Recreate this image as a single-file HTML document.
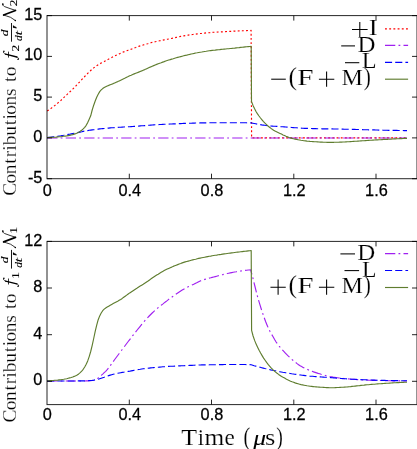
<!DOCTYPE html>
<html><head><meta charset="utf-8">
<style>
html,body{margin:0;padding:0;background:#fff;}
body{width:417px;height:449px;overflow:hidden;}
svg{display:block;will-change:transform;}
.tk{font-family:"Liberation Sans",sans-serif;font-size:16.3px;fill:#000;stroke:#000;stroke-width:0.25px;}
.sf{font-family:"Liberation Serif",serif;fill:#000;}
.sf text{stroke:#fff;stroke-width:0.7px;}
.yl text{stroke-width:1.2px;}
.yl text.m{stroke:#000;stroke-width:0.8px;}
.c{fill:none;stroke-width:1.15;stroke-linejoin:round;}
</style></head><body>
<svg width="417" height="449" viewBox="0 0 417 449">
<rect width="417" height="449" fill="#fff"/>
<!-- curves top -->
<path class="c" stroke="#ff0000" stroke-dasharray="1.9 2.3" d="M47.2 111.1 L48.7 110.1 L50.2 109.0 L51.7 107.9 L53.2 106.8 L54.7 105.6 L56.2 104.4 L57.7 103.1 L59.2 101.9 L60.7 100.6 L62.2 99.2 L63.7 97.7 L65.2 96.3 L66.7 94.8 L68.2 93.4 L69.7 92.0 L71.2 90.6 L72.7 89.2 L74.2 87.7 L75.7 86.1 L77.2 84.5 L78.7 82.9 L80.2 81.3 L81.7 79.7 L83.2 78.1 L84.7 76.5 L86.2 74.9 L87.7 73.4 L89.2 71.9 L90.7 70.5 L92.2 69.1 L93.7 67.9 L95.2 66.7 L96.7 65.7 L98.2 64.8 L99.7 63.9 L101.2 63.1 L102.7 62.3 L104.2 61.6 L105.7 60.8 L107.2 59.9 L108.7 59.1 L110.2 58.2 L111.7 57.5 L113.2 56.7 L114.7 56.0 L116.2 55.2 L117.7 54.5 L119.2 53.9 L120.7 53.2 L122.2 52.5 L123.7 51.9 L125.2 51.3 L126.7 50.8 L128.2 50.2 L129.7 49.7 L131.2 49.2 L132.7 48.6 L134.2 48.0 L135.7 47.5 L137.2 46.9 L138.7 46.4 L140.2 45.9 L141.7 45.5 L143.2 45.0 L144.7 44.5 L146.2 44.1 L147.7 43.7 L149.2 43.2 L150.7 42.8 L152.2 42.4 L153.7 42.1 L155.2 41.7 L156.7 41.4 L158.2 41.1 L159.7 40.8 L161.2 40.5 L162.7 40.2 L164.2 39.9 L165.7 39.6 L167.2 39.3 L168.7 39.0 L170.2 38.7 L171.7 38.4 L173.2 38.0 L174.7 37.7 L176.2 37.4 L177.7 37.1 L179.2 36.7 L180.7 36.4 L182.2 36.1 L183.7 35.9 L185.2 35.6 L186.7 35.4 L188.2 35.1 L189.7 34.9 L191.2 34.7 L192.7 34.5 L194.2 34.2 L195.7 34.1 L197.2 33.9 L198.7 33.7 L200.2 33.5 L201.7 33.4 L203.2 33.2 L204.7 33.1 L206.2 32.9 L207.7 32.8 L209.2 32.7 L210.7 32.6 L212.2 32.4 L213.7 32.3 L215.2 32.2 L216.7 32.1 L218.2 32.0 L219.7 31.9 L221.2 31.8 L222.7 31.8 L224.2 31.7 L225.7 31.6 L227.2 31.5 L228.7 31.4 L230.2 31.4 L231.7 31.3 L233.2 31.2 L234.7 31.1 L236.2 31.1 L237.7 31.0 L239.2 30.9 L240.7 30.8 L242.2 30.8 L243.7 30.7 L245.2 30.6 L246.7 30.6 L248.2 30.5 L249.7 30.5 L251.1 30.4 L251.6 137.8 L407.0 137.8"/>
<path class="c" stroke="#a020f0" stroke-dasharray="10.3 3.2 1.8 3.2" d="M47.2 138.0 L407.0 138.0"/>
<path class="c" stroke="#0000ff" stroke-dasharray="7.1 3.1" d="M47.2 137.6 L48.7 137.4 L50.2 137.3 L51.7 137.1 L53.2 136.9 L54.7 136.7 L56.2 136.5 L57.7 136.3 L59.2 136.0 L60.7 135.8 L62.2 135.5 L63.7 135.3 L65.2 135.0 L66.7 134.7 L68.2 134.4 L69.7 134.2 L71.2 133.9 L72.7 133.6 L74.2 133.3 L75.7 133.0 L77.2 132.7 L78.7 132.4 L80.2 132.1 L81.7 131.8 L83.2 131.4 L84.7 131.1 L86.2 130.8 L87.7 130.6 L89.2 130.3 L90.7 130.1 L92.2 129.9 L93.7 129.7 L95.2 129.5 L96.7 129.3 L98.2 129.1 L99.7 128.9 L101.2 128.8 L102.7 128.6 L104.2 128.5 L105.7 128.3 L107.2 128.2 L108.7 128.1 L110.2 127.9 L111.7 127.8 L113.2 127.7 L114.7 127.6 L116.2 127.5 L117.7 127.4 L119.2 127.3 L120.7 127.2 L122.2 127.1 L123.7 127.0 L125.2 126.9 L126.7 126.9 L128.2 126.8 L129.7 126.7 L131.2 126.6 L132.7 126.5 L134.2 126.4 L135.7 126.3 L137.2 126.2 L138.7 126.1 L140.2 125.9 L141.7 125.8 L143.2 125.7 L144.7 125.6 L146.2 125.5 L147.7 125.4 L149.2 125.2 L150.7 125.1 L152.2 125.0 L153.7 124.9 L155.2 124.8 L156.7 124.7 L158.2 124.6 L159.7 124.5 L161.2 124.5 L162.7 124.4 L164.2 124.3 L165.7 124.2 L167.2 124.1 L168.7 124.1 L170.2 124.0 L171.7 124.0 L173.2 123.9 L174.7 123.8 L176.2 123.8 L177.7 123.7 L179.2 123.6 L180.7 123.6 L182.2 123.5 L183.7 123.4 L185.2 123.4 L186.7 123.3 L188.2 123.3 L189.7 123.2 L191.2 123.2 L192.7 123.1 L194.2 123.1 L195.7 123.0 L197.2 123.0 L198.7 123.0 L200.2 122.9 L201.7 122.9 L203.2 122.9 L204.7 122.8 L206.2 122.8 L207.7 122.8 L209.2 122.7 L210.7 122.7 L212.2 122.7 L213.7 122.7 L215.2 122.7 L216.7 122.7 L218.2 122.7 L219.7 122.7 L221.2 122.7 L222.7 122.7 L224.2 122.7 L225.7 122.7 L227.2 122.7 L228.7 122.7 L230.2 122.7 L231.7 122.7 L233.2 122.7 L234.7 122.7 L236.2 122.7 L237.7 122.7 L239.2 122.7 L240.7 122.7 L242.2 122.7 L243.7 122.7 L245.2 122.7 L246.7 122.8 L248.2 122.8 L249.7 122.8 L251.2 122.9 L252.7 123.2 L254.2 123.5 L255.7 123.8 L257.2 124.1 L258.7 124.4 L260.2 124.6 L261.7 124.9 L263.2 125.1 L264.7 125.3 L266.2 125.5 L267.7 125.7 L269.2 125.8 L270.7 126.0 L272.2 126.1 L273.7 126.2 L275.2 126.3 L276.7 126.4 L278.2 126.5 L279.7 126.6 L281.2 126.7 L282.7 126.8 L284.2 126.9 L285.7 127.0 L287.2 127.1 L288.7 127.2 L290.2 127.3 L291.7 127.5 L293.2 127.6 L294.7 127.7 L296.2 127.8 L297.7 127.9 L299.2 128.0 L300.7 128.1 L302.2 128.2 L303.7 128.3 L305.2 128.3 L306.7 128.4 L308.2 128.4 L309.7 128.5 L311.2 128.5 L312.7 128.6 L314.2 128.6 L315.7 128.6 L317.2 128.7 L318.7 128.7 L320.2 128.7 L321.7 128.8 L323.2 128.8 L324.7 128.8 L326.2 128.8 L327.7 128.9 L329.2 128.9 L330.7 128.9 L332.2 128.9 L333.7 129.0 L335.2 129.0 L336.7 129.0 L338.2 129.0 L339.7 129.1 L341.2 129.1 L342.7 129.1 L344.2 129.2 L345.7 129.2 L347.2 129.2 L348.7 129.3 L350.2 129.3 L351.7 129.4 L353.2 129.4 L354.7 129.4 L356.2 129.5 L357.7 129.5 L359.2 129.5 L360.7 129.6 L362.2 129.6 L363.7 129.7 L365.2 129.7 L366.7 129.7 L368.2 129.8 L369.7 129.8 L371.2 129.9 L372.7 129.9 L374.2 129.9 L375.7 130.0 L377.2 130.0 L378.7 130.1 L380.2 130.1 L381.7 130.1 L383.2 130.2 L384.7 130.2 L386.2 130.2 L387.7 130.3 L389.2 130.3 L390.7 130.3 L392.2 130.4 L393.7 130.4 L395.2 130.4 L396.7 130.4 L398.2 130.5 L399.7 130.5 L401.2 130.5 L402.7 130.5 L404.2 130.6 L405.7 130.6 L407.0 130.6"/>
<path class="c" stroke="#5f7d2f" d="M47.2 137.5 L48.7 137.5 L50.2 137.4 L51.7 137.3 L53.2 137.3 L54.7 137.2 L56.2 137.1 L57.7 136.9 L59.2 136.8 L60.7 136.7 L62.2 136.5 L63.7 136.3 L65.2 136.1 L66.7 135.9 L68.2 135.6 L69.7 135.4 L71.2 135.0 L72.7 134.6 L74.2 134.1 L75.7 133.6 L77.2 133.0 L78.7 132.2 L80.2 131.3 L81.7 130.2 L83.2 128.9 L84.7 127.3 L86.2 125.3 L87.7 122.6 L89.2 119.3 L90.7 115.8 L92.2 110.0 L93.7 105.2 L95.2 101.0 L96.7 97.3 L98.2 94.2 L99.7 91.6 L101.2 89.9 L102.7 88.6 L104.2 87.6 L105.7 86.8 L107.2 86.1 L108.7 85.4 L110.2 84.8 L111.7 84.2 L113.2 83.6 L114.7 82.9 L116.2 82.2 L117.7 81.6 L119.2 80.9 L120.7 80.2 L122.2 79.5 L123.7 78.8 L125.2 78.1 L126.7 77.3 L128.2 76.6 L129.7 75.8 L131.2 75.2 L132.7 74.5 L134.2 73.9 L135.7 73.3 L137.2 72.7 L138.7 72.1 L140.2 71.5 L141.7 70.9 L143.2 70.2 L144.7 69.6 L146.2 68.9 L147.7 68.2 L149.2 67.5 L150.7 66.9 L152.2 66.2 L153.7 65.6 L155.2 65.0 L156.7 64.4 L158.2 63.8 L159.7 63.2 L161.2 62.7 L162.7 62.1 L164.2 61.6 L165.7 61.0 L167.2 60.5 L168.7 60.0 L170.2 59.6 L171.7 59.1 L173.2 58.7 L174.7 58.2 L176.2 57.8 L177.7 57.4 L179.2 57.0 L180.7 56.6 L182.2 56.2 L183.7 55.8 L185.2 55.4 L186.7 55.1 L188.2 54.7 L189.7 54.4 L191.2 54.0 L192.7 53.7 L194.2 53.4 L195.7 53.0 L197.2 52.8 L198.7 52.5 L200.2 52.2 L201.7 52.0 L203.2 51.7 L204.7 51.5 L206.2 51.3 L207.7 51.0 L209.2 50.8 L210.7 50.6 L212.2 50.4 L213.7 50.2 L215.2 50.1 L216.7 49.9 L218.2 49.7 L219.7 49.6 L221.2 49.4 L222.7 49.3 L224.2 49.1 L225.7 49.0 L227.2 48.8 L228.7 48.7 L230.2 48.5 L231.7 48.4 L233.2 48.2 L234.7 48.1 L236.2 47.9 L237.7 47.7 L239.2 47.6 L240.7 47.4 L242.2 47.3 L243.7 47.1 L245.2 46.9 L246.7 46.8 L248.2 46.6 L249.7 46.5 L251.2 46.3 L251.5 101.5 L253.0 105.4 L254.5 108.6 L256.0 111.5 L257.5 113.9 L259.0 116.0 L260.5 118.0 L262.0 119.8 L263.5 121.6 L265.0 123.2 L266.5 124.6 L268.0 126.0 L269.5 127.2 L271.0 128.4 L272.5 129.5 L274.0 130.4 L275.5 131.3 L277.0 132.0 L278.5 132.7 L280.0 133.4 L281.5 134.1 L283.0 134.9 L284.5 135.6 L286.0 136.3 L287.5 136.9 L289.0 137.5 L290.5 137.9 L292.0 138.4 L293.5 138.8 L295.0 139.1 L296.5 139.4 L298.0 139.7 L299.5 140.0 L301.0 140.3 L302.5 140.5 L304.0 140.7 L305.5 140.9 L307.0 141.1 L308.5 141.2 L310.0 141.4 L311.5 141.5 L313.0 141.6 L314.5 141.7 L316.0 141.8 L317.5 141.9 L319.0 142.0 L320.5 142.1 L322.0 142.1 L323.5 142.2 L325.0 142.2 L326.5 142.3 L328.0 142.3 L329.5 142.3 L331.0 142.3 L332.5 142.3 L334.0 142.3 L335.5 142.2 L337.0 142.2 L338.5 142.2 L340.0 142.1 L341.5 142.1 L343.0 142.0 L344.5 142.0 L346.0 141.9 L347.5 141.8 L349.0 141.7 L350.5 141.6 L352.0 141.5 L353.5 141.4 L355.0 141.3 L356.5 141.2 L358.0 141.1 L359.5 141.0 L361.0 140.9 L362.5 140.8 L364.0 140.7 L365.5 140.6 L367.0 140.5 L368.5 140.4 L370.0 140.3 L371.5 140.2 L373.0 140.1 L374.5 140.0 L376.0 139.9 L377.5 139.9 L379.0 139.8 L380.5 139.7 L382.0 139.6 L383.5 139.5 L385.0 139.4 L386.5 139.3 L388.0 139.3 L389.5 139.2 L391.0 139.1 L392.5 139.0 L394.0 138.9 L395.5 138.9 L397.0 138.8 L398.5 138.7 L400.0 138.6 L401.5 138.6 L403.0 138.5 L404.5 138.4 L406.0 138.3 L407.0 138.3"/>
<!-- curves bottom -->
<path class="c" stroke="#a020f0" stroke-dasharray="10.3 3.2 1.8 3.2" d="M47.2 381.0 L48.7 381.0 L50.2 381.0 L51.7 381.0 L53.2 381.0 L54.7 381.0 L56.2 381.0 L57.7 381.0 L59.2 381.0 L60.7 381.0 L62.2 381.0 L63.7 381.0 L65.2 381.0 L66.7 381.0 L68.2 381.0 L69.7 381.0 L71.2 381.0 L72.7 381.0 L74.2 381.0 L75.7 381.0 L77.2 381.0 L78.7 381.0 L80.2 381.0 L81.7 381.0 L83.2 381.0 L84.7 381.0 L86.2 380.9 L87.7 380.9 L89.2 380.8 L90.7 380.7 L92.2 380.5 L93.7 380.2 L95.2 379.8 L96.7 379.1 L98.2 377.9 L99.7 376.6 L101.2 375.4 L102.7 374.1 L104.2 372.7 L105.7 371.3 L107.2 369.7 L108.7 367.9 L110.2 365.8 L111.7 363.7 L113.2 361.6 L114.7 359.5 L116.2 357.5 L117.7 355.5 L119.2 353.5 L120.7 351.5 L122.2 349.5 L123.7 347.5 L125.2 345.5 L126.7 343.5 L128.2 341.5 L129.7 339.6 L131.2 337.7 L132.7 335.7 L134.2 333.8 L135.7 331.9 L137.2 330.0 L138.7 328.2 L140.2 326.3 L141.7 324.4 L143.2 322.6 L144.7 320.8 L146.2 319.2 L147.7 317.6 L149.2 316.0 L150.7 314.5 L152.2 313.0 L153.7 311.6 L155.2 310.2 L156.7 308.9 L158.2 307.6 L159.7 306.4 L161.2 305.2 L162.7 304.1 L164.2 302.9 L165.7 301.7 L167.2 300.6 L168.7 299.4 L170.2 298.3 L171.7 297.2 L173.2 296.1 L174.7 295.1 L176.2 294.0 L177.7 293.0 L179.2 292.0 L180.7 291.0 L182.2 290.1 L183.7 289.2 L185.2 288.3 L186.7 287.5 L188.2 286.8 L189.7 286.1 L191.2 285.4 L192.7 284.7 L194.2 284.0 L195.7 283.2 L197.2 282.5 L198.7 281.7 L200.2 281.0 L201.7 280.4 L203.2 279.9 L204.7 279.4 L206.2 279.0 L207.7 278.5 L209.2 278.1 L210.7 277.8 L212.2 277.4 L213.7 277.0 L215.2 276.6 L216.7 276.2 L218.2 275.8 L219.7 275.4 L221.2 274.9 L222.7 274.6 L224.2 274.2 L225.7 273.8 L227.2 273.5 L228.7 273.2 L230.2 272.9 L231.7 272.6 L233.2 272.3 L234.7 272.0 L236.2 271.8 L237.7 271.5 L239.2 271.3 L240.7 271.0 L242.2 270.8 L243.7 270.6 L245.2 270.4 L246.7 270.2 L248.2 270.0 L249.7 269.9 L250.6 269.8 L250.6 269.8 L252.1 274.9 L253.6 280.9 L255.1 287.0 L256.6 293.0 L258.1 298.7 L259.6 303.7 L261.1 308.5 L262.6 313.0 L264.1 317.4 L265.6 321.5 L267.1 325.2 L268.6 328.7 L270.1 331.6 L271.6 334.3 L273.1 336.8 L274.6 339.5 L276.1 342.0 L277.6 344.1 L279.1 346.0 L280.6 347.8 L282.1 349.5 L283.6 351.2 L285.1 352.8 L286.6 354.4 L288.1 355.9 L289.6 357.3 L291.1 358.7 L292.6 360.0 L294.1 361.2 L295.6 362.4 L297.1 363.6 L298.6 364.7 L300.1 365.7 L301.6 366.6 L303.1 367.4 L304.6 368.2 L306.1 368.9 L307.6 369.5 L309.1 370.2 L310.6 370.8 L312.1 371.3 L313.6 371.9 L315.1 372.4 L316.6 372.9 L318.1 373.4 L319.6 373.8 L321.1 374.3 L322.6 374.7 L324.1 375.1 L325.6 375.5 L327.1 375.9 L328.6 376.2 L330.1 376.6 L331.6 376.8 L333.1 377.1 L334.6 377.3 L336.1 377.6 L337.6 377.8 L339.1 378.0 L340.6 378.2 L342.1 378.3 L343.6 378.5 L345.1 378.6 L346.6 378.8 L348.1 378.9 L349.6 379.0 L351.1 379.2 L352.6 379.3 L354.1 379.4 L355.6 379.5 L357.1 379.6 L358.6 379.7 L360.1 379.8 L361.6 379.8 L363.1 379.9 L364.6 380.0 L366.1 380.0 L367.6 380.1 L369.1 380.2 L370.6 380.2 L372.1 380.3 L373.6 380.3 L375.1 380.4 L376.6 380.4 L378.1 380.4 L379.6 380.5 L381.1 380.5 L382.6 380.6 L384.1 380.6 L385.6 380.6 L387.1 380.7 L388.6 380.7 L390.1 380.7 L391.6 380.8 L393.1 380.8 L394.6 380.8 L396.1 380.8 L397.6 380.9 L399.1 380.9 L400.6 380.9 L402.1 380.9 L403.6 381.0 L405.1 381.0 L406.6 381.0 L407.0 381.0"/>
<path class="c" stroke="#0000ff" stroke-dasharray="7.1 3.1" d="M47.2 381.0 L48.7 381.0 L50.2 381.0 L51.7 381.0 L53.2 381.0 L54.7 381.0 L56.2 381.0 L57.7 381.0 L59.2 381.0 L60.7 381.0 L62.2 381.0 L63.7 381.0 L65.2 381.0 L66.7 381.0 L68.2 381.0 L69.7 381.0 L71.2 381.0 L72.7 381.0 L74.2 381.0 L75.7 380.9 L77.2 380.9 L78.7 380.9 L80.2 380.9 L81.7 380.9 L83.2 380.9 L84.7 380.9 L86.2 380.8 L87.7 380.8 L89.2 380.6 L90.7 380.5 L92.2 380.4 L93.7 380.2 L95.2 379.9 L96.7 379.6 L98.2 379.2 L99.7 378.7 L101.2 378.2 L102.7 377.7 L104.2 377.2 L105.7 376.6 L107.2 376.1 L108.7 375.6 L110.2 375.1 L111.7 374.7 L113.2 374.3 L114.7 373.9 L116.2 373.6 L117.7 373.3 L119.2 373.0 L120.7 372.7 L122.2 372.4 L123.7 372.2 L125.2 371.9 L126.7 371.6 L128.2 371.4 L129.7 371.2 L131.2 370.9 L132.7 370.6 L134.2 370.3 L135.7 370.1 L137.2 369.8 L138.7 369.5 L140.2 369.3 L141.7 369.0 L143.2 368.8 L144.7 368.6 L146.2 368.5 L147.7 368.3 L149.2 368.1 L150.7 367.9 L152.2 367.8 L153.7 367.6 L155.2 367.5 L156.7 367.3 L158.2 367.2 L159.7 367.1 L161.2 367.0 L162.7 366.8 L164.2 366.7 L165.7 366.6 L167.2 366.5 L168.7 366.4 L170.2 366.3 L171.7 366.2 L173.2 366.2 L174.7 366.1 L176.2 366.0 L177.7 365.9 L179.2 365.8 L180.7 365.8 L182.2 365.7 L183.7 365.7 L185.2 365.6 L186.7 365.5 L188.2 365.5 L189.7 365.4 L191.2 365.3 L192.7 365.3 L194.2 365.2 L195.7 365.1 L197.2 365.1 L198.7 365.0 L200.2 365.0 L201.7 364.9 L203.2 364.9 L204.7 364.8 L206.2 364.8 L207.7 364.8 L209.2 364.8 L210.7 364.7 L212.2 364.7 L213.7 364.7 L215.2 364.7 L216.7 364.7 L218.2 364.6 L219.7 364.6 L221.2 364.6 L222.7 364.6 L224.2 364.5 L225.7 364.5 L227.2 364.5 L228.7 364.5 L230.2 364.5 L231.7 364.5 L233.2 364.5 L234.7 364.5 L236.2 364.5 L237.7 364.5 L239.2 364.5 L240.7 364.5 L242.2 364.5 L243.7 364.5 L245.2 364.5 L246.7 364.6 L248.2 364.6 L249.7 364.6 L251.2 364.7 L252.7 365.2 L254.2 365.7 L255.7 366.1 L257.2 366.5 L258.7 366.9 L260.2 367.3 L261.7 367.7 L263.2 368.1 L264.7 368.5 L266.2 368.8 L267.7 369.2 L269.2 369.5 L270.7 369.9 L272.2 370.2 L273.7 370.5 L275.2 370.8 L276.7 371.1 L278.2 371.4 L279.7 371.7 L281.2 372.0 L282.7 372.3 L284.2 372.5 L285.7 372.8 L287.2 373.1 L288.7 373.3 L290.2 373.5 L291.7 373.8 L293.2 374.0 L294.7 374.2 L296.2 374.4 L297.7 374.6 L299.2 374.8 L300.7 375.0 L302.2 375.2 L303.7 375.4 L305.2 375.6 L306.7 375.8 L308.2 375.9 L309.7 376.1 L311.2 376.2 L312.7 376.3 L314.2 376.5 L315.7 376.6 L317.2 376.7 L318.7 376.8 L320.2 376.9 L321.7 377.0 L323.2 377.1 L324.7 377.2 L326.2 377.3 L327.7 377.4 L329.2 377.5 L330.7 377.6 L332.2 377.8 L333.7 377.9 L335.2 378.0 L336.7 378.1 L338.2 378.2 L339.7 378.4 L341.2 378.5 L342.7 378.6 L344.2 378.7 L345.7 378.8 L347.2 378.9 L348.7 379.0 L350.2 379.1 L351.7 379.2 L353.2 379.2 L354.7 379.3 L356.2 379.4 L357.7 379.5 L359.2 379.6 L360.7 379.6 L362.2 379.7 L363.7 379.7 L365.2 379.8 L366.7 379.9 L368.2 379.9 L369.7 380.0 L371.2 380.0 L372.7 380.1 L374.2 380.1 L375.7 380.2 L377.2 380.2 L378.7 380.3 L380.2 380.3 L381.7 380.3 L383.2 380.4 L384.7 380.4 L386.2 380.5 L387.7 380.5 L389.2 380.5 L390.7 380.5 L392.2 380.5 L393.7 380.6 L395.2 380.6 L396.7 380.6 L398.2 380.6 L399.7 380.6 L401.2 380.7 L402.7 380.7 L404.2 380.7 L405.7 380.7 L407.0 380.7"/>
<path class="c" stroke="#5f7d2f" d="M47.2 380.7 L48.7 380.7 L50.2 380.6 L51.7 380.6 L53.2 380.5 L54.7 380.3 L56.2 380.2 L57.7 380.1 L59.2 379.9 L60.7 379.8 L62.2 379.5 L63.7 379.3 L65.2 379.0 L66.7 378.7 L68.2 378.3 L69.7 377.9 L71.2 377.5 L72.7 377.0 L74.2 376.4 L75.7 375.7 L77.2 374.9 L78.7 373.9 L80.2 372.6 L81.7 371.1 L83.2 369.3 L84.7 367.0 L86.2 364.2 L87.7 360.9 L89.2 356.6 L90.7 351.5 L92.2 345.3 L93.7 338.5 L95.2 331.3 L96.7 325.1 L98.2 319.7 L99.7 315.9 L101.2 313.0 L102.7 310.7 L104.2 309.1 L105.7 308.0 L107.2 307.1 L108.7 306.2 L110.2 305.3 L111.7 304.4 L113.2 303.6 L114.7 302.8 L116.2 302.0 L117.7 301.2 L119.2 300.3 L120.7 299.4 L122.2 298.4 L123.7 297.3 L125.2 296.2 L126.7 295.1 L128.2 294.0 L129.7 292.9 L131.2 291.9 L132.7 290.9 L134.2 289.9 L135.7 288.9 L137.2 288.0 L138.7 287.0 L140.2 286.1 L141.7 285.2 L143.2 284.3 L144.7 283.3 L146.2 282.3 L147.7 281.3 L149.2 280.2 L150.7 279.1 L152.2 278.1 L153.7 277.1 L155.2 276.1 L156.7 275.1 L158.2 274.2 L159.7 273.2 L161.2 272.3 L162.7 271.4 L164.2 270.6 L165.7 269.8 L167.2 269.1 L168.7 268.4 L170.2 267.7 L171.7 267.1 L173.2 266.4 L174.7 265.8 L176.2 265.2 L177.7 264.6 L179.2 264.0 L180.7 263.5 L182.2 262.9 L183.7 262.4 L185.2 261.9 L186.7 261.5 L188.2 261.1 L189.7 260.7 L191.2 260.3 L192.7 259.9 L194.2 259.5 L195.7 259.2 L197.2 258.8 L198.7 258.4 L200.2 258.1 L201.7 257.8 L203.2 257.5 L204.7 257.2 L206.2 256.9 L207.7 256.6 L209.2 256.3 L210.7 256.1 L212.2 255.8 L213.7 255.5 L215.2 255.3 L216.7 255.1 L218.2 254.8 L219.7 254.6 L221.2 254.4 L222.7 254.1 L224.2 253.9 L225.7 253.7 L227.2 253.5 L228.7 253.3 L230.2 253.1 L231.7 252.9 L233.2 252.7 L234.7 252.5 L236.2 252.3 L237.7 252.1 L239.2 252.0 L240.7 251.8 L242.2 251.6 L243.7 251.4 L245.2 251.3 L246.7 251.1 L248.2 250.9 L249.7 250.8 L251.2 250.6 L251.6 330.4 L253.1 336.0 L254.6 340.4 L256.1 344.1 L257.6 347.2 L259.1 350.2 L260.6 353.0 L262.1 355.6 L263.6 358.1 L265.1 360.3 L266.6 362.4 L268.1 364.4 L269.6 366.2 L271.1 367.9 L272.6 369.4 L274.1 370.8 L275.6 372.1 L277.1 373.3 L278.6 374.4 L280.1 375.4 L281.6 376.4 L283.1 377.3 L284.6 378.1 L286.1 379.0 L287.6 379.8 L289.1 380.5 L290.6 381.2 L292.1 381.8 L293.6 382.3 L295.1 382.9 L296.6 383.4 L298.1 383.8 L299.6 384.2 L301.1 384.6 L302.6 384.9 L304.1 385.2 L305.6 385.5 L307.1 385.8 L308.6 386.0 L310.1 386.3 L311.6 386.4 L313.1 386.6 L314.6 386.8 L316.1 386.9 L317.6 387.0 L319.1 387.1 L320.6 387.2 L322.1 387.3 L323.6 387.4 L325.1 387.5 L326.6 387.6 L328.1 387.6 L329.6 387.7 L331.1 387.7 L332.6 387.7 L334.1 387.7 L335.6 387.6 L337.1 387.5 L338.6 387.5 L340.1 387.4 L341.6 387.3 L343.1 387.2 L344.6 387.1 L346.1 387.0 L347.6 386.9 L349.1 386.7 L350.6 386.6 L352.1 386.4 L353.6 386.3 L355.1 386.1 L356.6 385.9 L358.1 385.7 L359.6 385.6 L361.1 385.4 L362.6 385.2 L364.1 385.1 L365.6 384.9 L367.1 384.8 L368.6 384.7 L370.1 384.5 L371.6 384.4 L373.1 384.3 L374.6 384.2 L376.1 384.0 L377.6 383.9 L379.1 383.8 L380.6 383.7 L382.1 383.6 L383.6 383.5 L385.1 383.4 L386.6 383.3 L388.1 383.2 L389.6 383.1 L391.1 383.0 L392.6 382.9 L394.1 382.8 L395.6 382.7 L397.1 382.6 L398.6 382.6 L400.1 382.5 L401.6 382.4 L403.1 382.4 L404.6 382.3 L406.1 382.2 L407.0 382.2"/>
<!-- frames -->
<g fill="none" stroke="#000" stroke-width="1" stroke-opacity="0.85">
<rect x="47.0" y="15.6" width="370.0" height="163.1"/>
<rect x="47.0" y="241.4" width="370.0" height="163.2"/>
<path d="M129.3 178.7V173.7 M129.3 15.6V20.6 M129.3 404.6V399.6 M129.3 241.4V246.4 M211.5 178.7V173.7 M211.5 15.6V20.6 M211.5 404.6V399.6 M211.5 241.4V246.4 M293.8 178.7V173.7 M293.8 15.6V20.6 M293.8 404.6V399.6 M293.8 241.4V246.4 M376.0 178.7V173.7 M376.0 15.6V20.6 M376.0 404.6V399.6 M376.0 241.4V246.4 M47.0 178.7H52.0 M417.0 178.7H412.0 M47.0 137.9H52.0 M417.0 137.9H412.0 M47.0 97.1H52.0 M417.0 97.1H412.0 M47.0 56.4H52.0 M417.0 56.4H412.0 M47.0 15.6H52.0 M417.0 15.6H412.0 M47.0 381.3H52.0 M417.0 381.3H412.0 M47.0 334.7H52.0 M417.0 334.7H412.0 M47.0 288.0H52.0 M417.0 288.0H412.0 M47.0 241.4H52.0 M417.0 241.4H412.0"/>
</g>
<g class="tk">
<text transform="translate(47.4 195.95) scale(1 1.05)" text-anchor="middle">0</text>
<text transform="translate(47.4 420.30) scale(1 1.05)" text-anchor="middle">0</text>
<text transform="translate(129.7 195.95) scale(1 1.05)" text-anchor="middle">0.4</text>
<text transform="translate(129.7 420.30) scale(1 1.05)" text-anchor="middle">0.4</text>
<text transform="translate(211.9 195.95) scale(1 1.05)" text-anchor="middle">0.8</text>
<text transform="translate(211.9 420.30) scale(1 1.05)" text-anchor="middle">0.8</text>
<text transform="translate(294.2 195.95) scale(1 1.05)" text-anchor="middle">1.2</text>
<text transform="translate(294.2 420.30) scale(1 1.05)" text-anchor="middle">1.2</text>
<text transform="translate(376.4 195.95) scale(1 1.05)" text-anchor="middle">1.6</text>
<text transform="translate(376.4 420.30) scale(1 1.05)" text-anchor="middle">1.6</text>
<text transform="translate(42.4 182.80) scale(1 1.06)" text-anchor="end">-5</text>
<text transform="translate(42.4 142.02) scale(1 1.06)" text-anchor="end">0</text>
<text transform="translate(42.4 101.25) scale(1 1.06)" text-anchor="end">5</text>
<text transform="translate(42.4 60.48) scale(1 1.06)" text-anchor="end">10</text>
<text transform="translate(42.4 19.70) scale(1 1.06)" text-anchor="end">15</text>
<text transform="translate(42.4 385.39) scale(1 1.06)" text-anchor="end">0</text>
<text transform="translate(42.4 338.76) scale(1 1.06)" text-anchor="end">4</text>
<text transform="translate(42.4 292.13) scale(1 1.06)" text-anchor="end">8</text>
<text transform="translate(42.4 245.50) scale(1 1.06)" text-anchor="end">12</text>
</g>
<g class="sf"><path d="M352.00 29.40H367.60 M359.80 21.90V36.90" stroke="#000" stroke-width="1.05" fill="none"/>
<text transform="translate(368.63 35.00) scale(0.2675 0.2306)" font-size="100">I</text>
<path d="M341.20 45.90H355.00" stroke="#000" stroke-width="1.05" fill="none"/>
<text transform="translate(357.48 51.60) scale(0.2495 0.2306)" font-size="100">D</text>
<path d="M345.00 62.70H359.30" stroke="#000" stroke-width="1.05" fill="none"/>
<text transform="translate(361.80 68.40) scale(0.2433 0.2306)" font-size="100">L</text>
<path d="M271.20 79.20H285.80" stroke="#000" stroke-width="1.05" fill="none"/>
<text transform="translate(288.47 85.35) scale(0.2570 0.2559)" font-size="100">(</text>
<text transform="translate(297.26 84.90) scale(0.2932 0.2306)" font-size="100">F</text>
<path d="M318.90 79.20H334.30 M326.60 71.60V86.80" stroke="#000" stroke-width="1.05" fill="none"/>
<text transform="translate(341.51 84.90) scale(0.2407 0.2306)" font-size="100">M</text>
<text transform="translate(363.81 85.35) scale(0.2141 0.2559)" font-size="100">)</text>
<path d="M340.40 253.90H355.00" stroke="#000" stroke-width="1.05" fill="none"/>
<text transform="translate(357.28 260.00) scale(0.2495 0.2306)" font-size="100">D</text>
<path d="M344.50 270.60H359.10" stroke="#000" stroke-width="1.05" fill="none"/>
<text transform="translate(362.02 276.80) scale(0.2376 0.2306)" font-size="100">L</text>
<path d="M270.45 287.20H285.75 M278.10 279.60V294.80" stroke="#000" stroke-width="1.05" fill="none"/>
<text transform="translate(288.47 293.35) scale(0.2570 0.2559)" font-size="100">(</text>
<text transform="translate(297.26 292.90) scale(0.2932 0.2306)" font-size="100">F</text>
<path d="M318.90 287.20H334.30 M326.60 279.60V294.80" stroke="#000" stroke-width="1.05" fill="none"/>
<text transform="translate(341.51 292.90) scale(0.2407 0.2306)" font-size="100">M</text>
<text transform="translate(363.81 293.35) scale(0.2141 0.2559)" font-size="100">)</text>
<path class="c" stroke="#ff0000" stroke-dasharray="1.9 2.3" d="M385.0 28.8H408.1"/>
<path class="c" stroke="#a020f0" stroke-dasharray="10.3 3.2 1.8 3.2" d="M385.0 45.4H408.1"/>
<path class="c" stroke="#0000ff" stroke-dasharray="7.1 3.1" d="M385.0 62.3H408.1"/>
<path class="c" stroke="#5f7d2f" stroke-dasharray="" d="M385.0 79.2H408.1"/>
<path class="c" stroke="#a020f0" stroke-dasharray="10.3 3.2 1.8 3.2" d="M385.0 253.6H408.1"/>
<path class="c" stroke="#0000ff" stroke-dasharray="7.1 3.1" d="M385.0 270.5H408.1"/>
<path class="c" stroke="#5f7d2f" stroke-dasharray="" d="M385.0 287.5H408.1"/></g>
<g transform="rotate(-90)" class="sf yl"><text transform="translate(-195.72 16.10) scale(0.1943 0.1850)" font-size="100">C</text>
<text transform="translate(-183.44 16.10) scale(0.1943 0.1850)" font-size="100">o</text>
<text transform="translate(-174.19 16.10) scale(0.1943 0.1850)" font-size="100">n</text>
<text transform="translate(-163.65 16.10) scale(0.1943 0.1850)" font-size="100">t</text>
<text transform="translate(-157.36 16.10) scale(0.1943 0.1850)" font-size="100">r</text>
<text transform="translate(-150.82 16.10) scale(0.1943 0.1850)" font-size="100">i</text>
<text transform="translate(-145.23 16.10) scale(0.1943 0.1850)" font-size="100">b</text>
<text transform="translate(-135.74 16.10) scale(0.1943 0.1850)" font-size="100">u</text>
<text transform="translate(-125.31 16.10) scale(0.1943 0.1850)" font-size="100">t</text>
<text transform="translate(-119.40 16.10) scale(0.1943 0.1850)" font-size="100">i</text>
<text transform="translate(-114.67 16.10) scale(0.1943 0.1850)" font-size="100">o</text>
<text transform="translate(-105.42 16.10) scale(0.1943 0.1850)" font-size="100">n</text>
<text transform="translate(-95.93 16.10) scale(0.1943 0.1850)" font-size="100">s</text>
<text transform="translate(-82.05 16.10) scale(0.1943 0.1850)" font-size="100">t</text>
<text transform="translate(-76.32 16.10) scale(0.1943 0.1850)" font-size="100">o</text>
<text transform="translate(-51.39 19.00) scale(0.1347 0.1012)" font-size="100" class="m">2</text>
<path d="M-41.70 11.5H-23.00" stroke="#000" stroke-width="0.9" fill="none"/>
<text transform="translate(-36.30 8.30) scale(0.1334 0.1008)" font-size="100" font-style="italic" class="m">d</text>
<text transform="translate(-40.95 21.69) scale(0.1144 0.1079)" font-size="100" font-style="italic" class="m">d</text>
<text transform="translate(-35.53 21.59) scale(0.1654 0.1100)" font-size="100" font-style="italic" class="m">t</text>
<text transform="translate(-29.49 23.04) scale(0.2414 0.1533)" font-size="100" class="m">′</text>
<text transform="translate(-6.19 17.40) scale(0.1347 0.1057)" font-size="100" class="m">2</text></g><g transform="translate(0 0.0)" fill="none" stroke="#000" stroke-linecap="round" stroke-linejoin="round"><path stroke-width="0.8" d="M15.3 20.6C13.5 19.6 12.2 18 10.5 17.3C8 16.3 5.5 15.8 3.4 15.0"/><path stroke-width="1.7" d="M3.6 15.0L15.5 10.5"/><path stroke-width="0.8" d="M15.6 10.4C12 9.4 8 7.8 4.6 6.6C3.2 6.0 2.6 5.0 2.6 4.0"/><circle cx="15.3" cy="20.5" r="0.75" fill="#000" stroke="none"/><ellipse cx="2.9" cy="4.3" rx="0.7" ry="1.0" fill="#000" stroke="none"/><path stroke-width="0.8" d="M18.2 59.3C19.2 58.6 18.6 57.4 16.8 57.0"/><path stroke-width="1.3" d="M16.8 57.0L5.6 54.2"/><path stroke-width="0.8" d="M5.6 54.2C3.6 53.6 3.0 52.4 3.7 51.4"/><path stroke-width="0.8" d="M8.5 57.2V52.0"/><circle cx="18.1" cy="59.3" r="0.75" fill="#000" stroke="none"/><circle cx="3.9" cy="51.3" r="0.7" fill="#000" stroke="none"/></g><g transform="rotate(-90)" class="sf yl"><text transform="translate(-422.62 16.10) scale(0.1943 0.1850)" font-size="100">C</text>
<text transform="translate(-410.34 16.10) scale(0.1943 0.1850)" font-size="100">o</text>
<text transform="translate(-401.09 16.10) scale(0.1943 0.1850)" font-size="100">n</text>
<text transform="translate(-390.55 16.10) scale(0.1943 0.1850)" font-size="100">t</text>
<text transform="translate(-384.26 16.10) scale(0.1943 0.1850)" font-size="100">r</text>
<text transform="translate(-377.72 16.10) scale(0.1943 0.1850)" font-size="100">i</text>
<text transform="translate(-372.13 16.10) scale(0.1943 0.1850)" font-size="100">b</text>
<text transform="translate(-362.64 16.10) scale(0.1943 0.1850)" font-size="100">u</text>
<text transform="translate(-352.21 16.10) scale(0.1943 0.1850)" font-size="100">t</text>
<text transform="translate(-346.30 16.10) scale(0.1943 0.1850)" font-size="100">i</text>
<text transform="translate(-341.57 16.10) scale(0.1943 0.1850)" font-size="100">o</text>
<text transform="translate(-332.32 16.10) scale(0.1943 0.1850)" font-size="100">n</text>
<text transform="translate(-322.83 16.10) scale(0.1943 0.1850)" font-size="100">s</text>
<text transform="translate(-308.95 16.10) scale(0.1943 0.1850)" font-size="100">t</text>
<text transform="translate(-303.22 16.10) scale(0.1943 0.1850)" font-size="100">o</text>
<text transform="translate(-278.92 19.00) scale(0.1392 0.1015)" font-size="100" class="m">1</text>
<path d="M-268.60 11.5H-249.90" stroke="#000" stroke-width="0.9" fill="none"/>
<text transform="translate(-263.20 8.30) scale(0.1334 0.1008)" font-size="100" font-style="italic" class="m">d</text>
<text transform="translate(-267.85 21.69) scale(0.1144 0.1079)" font-size="100" font-style="italic" class="m">d</text>
<text transform="translate(-262.43 21.59) scale(0.1654 0.1100)" font-size="100" font-style="italic" class="m">t</text>
<text transform="translate(-256.39 23.04) scale(0.2414 0.1533)" font-size="100" class="m">′</text>
<text transform="translate(-233.72 17.40) scale(0.1392 0.1060)" font-size="100" class="m">1</text></g><g transform="translate(0 226.9)" fill="none" stroke="#000" stroke-linecap="round" stroke-linejoin="round"><path stroke-width="0.8" d="M15.3 20.6C13.5 19.6 12.2 18 10.5 17.3C8 16.3 5.5 15.8 3.4 15.0"/><path stroke-width="1.7" d="M3.6 15.0L15.5 10.5"/><path stroke-width="0.8" d="M15.6 10.4C12 9.4 8 7.8 4.6 6.6C3.2 6.0 2.6 5.0 2.6 4.0"/><circle cx="15.3" cy="20.5" r="0.75" fill="#000" stroke="none"/><ellipse cx="2.9" cy="4.3" rx="0.7" ry="1.0" fill="#000" stroke="none"/><path stroke-width="0.8" d="M18.2 59.3C19.2 58.6 18.6 57.4 16.8 57.0"/><path stroke-width="1.3" d="M16.8 57.0L5.6 54.2"/><path stroke-width="0.8" d="M5.6 54.2C3.6 53.6 3.0 52.4 3.7 51.4"/><path stroke-width="0.8" d="M8.5 57.2V52.0"/><circle cx="18.1" cy="59.3" r="0.75" fill="#000" stroke="none"/><circle cx="3.9" cy="51.3" r="0.7" fill="#000" stroke="none"/></g><g class="sf"><text transform="translate(181.13 445.40) scale(0.2586 0.2260)" font-size="100">T</text>
<text transform="translate(197.72 445.40) scale(0.2271 0.2260)" font-size="100">i</text>
<text transform="translate(204.47 445.40) scale(0.2536 0.2260)" font-size="100">m</text>
<text transform="translate(224.39 445.40) scale(0.2324 0.2260)" font-size="100">e</text>
<text transform="translate(243.61 445.29) scale(0.2025 0.2492)" font-size="100">(</text>
<text transform="translate(253.22 445.28) scale(0.2555 0.2021)" font-size="100" font-style="italic" style="stroke:#000;stroke-width:0.3px">μ</text>
<text transform="translate(265.11 445.40) scale(0.2660 0.2260)" font-size="100">s</text>
<text transform="translate(276.16 445.29) scale(0.1986 0.2492)" font-size="100">)</text></g>
</svg>
</body></html>
